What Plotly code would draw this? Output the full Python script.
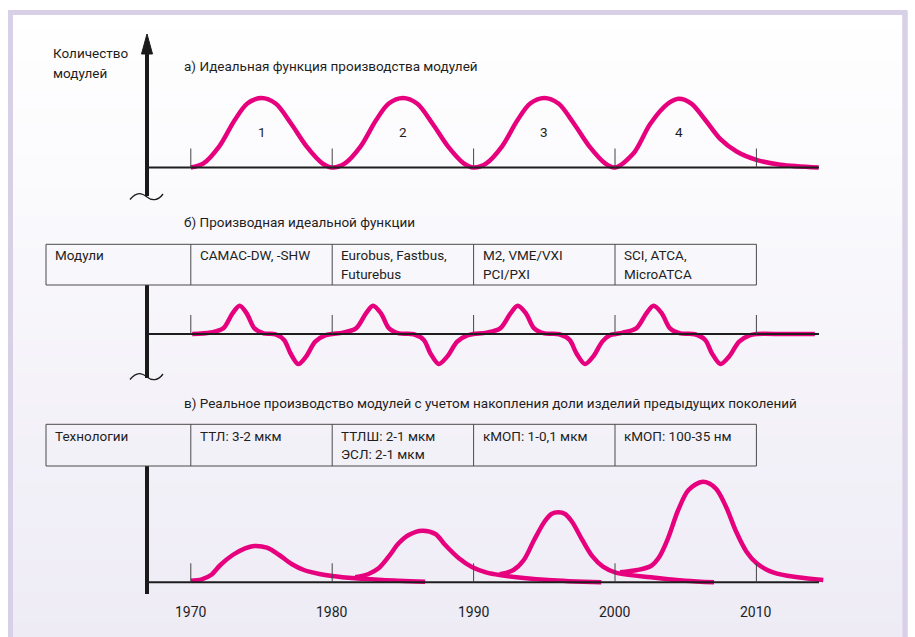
import plotly.graph_objects as go

W, H = 915, 637

# ---------------- data ----------------
decade_ticks = [1970, 1980, 1990, 2000, 2010]
decade_labels = ["1970", "1980", "1990", "2000", "2010"]

# a) ideal production function (relative units, peak = 1)
ideal_years = [1970.0, 1970.9, 1972.0, 1973.1, 1974.0, 1975.0, 1976.0, 1977.1, 1978.2, 1979.3,
               1980.0, 1980.9, 1982.0, 1983.1, 1984.0, 1985.0, 1986.0, 1987.1, 1988.2, 1989.3,
               1990.0, 1990.9, 1992.0, 1993.1, 1994.0, 1995.0, 1996.0, 1997.1, 1998.2, 1999.3,
               2000.0, 2001.3, 2002.5, 2003.75, 2004.5, 2005.4, 2006.4, 2007.4, 2008.6, 2010.0,
               2011.7, 2014.4]
ideal_values = [0.0, 0.06, 0.30, 0.68, 0.92, 1.0, 0.92, 0.63, 0.30, 0.06,
                0.0, 0.06, 0.30, 0.68, 0.92, 1.0, 0.92, 0.63, 0.30, 0.06,
                0.0, 0.06, 0.30, 0.68, 0.92, 1.0, 0.92, 0.63, 0.30, 0.06,
                0.0, 0.20, 0.63, 0.92, 0.99, 0.92, 0.68, 0.42, 0.23, 0.11,
                0.04, 0.0]
hump_names = ["1", "2", "3", "4"]
hump_centers = [1975.0, 1985.0, 1995.0, 2004.5]

# b) derivative of the ideal function
deriv_years = [1970.1, 1971.4, 1972.3, 1972.95, 1973.45, 1973.95, 1974.5, 1975.15, 1976.0, 1976.6,
               1977.05, 1977.6, 1978.15, 1978.8, 1979.5, 1980.0,
               1980.76, 1981.68, 1982.39, 1982.89, 1983.45, 1984.02, 1984.73, 1985.77, 1986.48,
               1986.94, 1987.54, 1988.13, 1988.84, 1989.55, 1990.0,
               1990.93, 1991.88, 1992.61, 1993.12, 1993.70, 1994.28, 1995.01, 1996.06, 1996.79,
               1997.27, 1997.88, 1998.45, 1999.1, 1999.6, 2000.05,
               2000.56, 2001.50, 2002.22, 2002.73, 2003.31, 2003.89, 2004.62, 2005.65, 2006.38,
               2006.85, 2007.46, 2008.06, 2008.78, 2009.51, 2010.0, 2012.0, 2014.13]
deriv_values = [0.0, 0.05, 0.2, 0.73, 1.0, 0.73, 0.2, 0.02, -0.01, -0.21,
                -0.68, -1.06, -0.8, -0.27, -0.05, 0.0,
                0.05, 0.2, 0.73, 1.0, 0.73, 0.2, 0.02, -0.01, -0.21,
                -0.68, -1.06, -0.8, -0.27, -0.05, 0.0,
                0.05, 0.2, 0.73, 1.0, 0.73, 0.2, 0.02, -0.01, -0.21,
                -0.68, -1.06, -0.8, -0.27, -0.05, 0.0,
                0.05, 0.2, 0.73, 1.0, 0.73, 0.2, 0.02, -0.01, -0.21,
                -0.68, -1.06, -0.8, -0.27, -0.05, 0.0, 0.0, 0.0]

# c) real production with accumulation of previous generations (relative units)
gen1_years = [1970.0, 1970.77, 1971.43, 1972.09, 1972.96, 1973.84, 1974.49, 1975.38, 1976.25,
              1977.13, 1978.0, 1979.1, 1980.0, 1981.63, 1983.52, 1986.57]
gen1_values = [0.016, 0.03, 0.073, 0.173, 0.273, 0.34, 0.363, 0.346, 0.273,
               0.183, 0.123, 0.083, 0.063, 0.04, 0.023, 0.006]
gen2_years = [1981.63, 1982.57, 1983.28, 1983.99, 1984.70, 1985.41, 1986.36, 1987.30, 1988.01,
              1988.96, 1989.91, 1990.88, 1991.85, 1995.26, 1999.03]
gen2_values = [0.05, 0.083, 0.14, 0.256, 0.39, 0.473, 0.516, 0.483, 0.37,
               0.24, 0.15, 0.10, 0.073, 0.023, 0.0]
gen3_years = [1991.85, 1992.82, 1993.55, 1994.28, 1995.01, 1995.5, 1995.99, 1996.47, 1996.96,
              1997.69, 1998.42, 1999.15, 2000.0, 2002.54, 2004.96, 2007.0]
gen3_values = [0.08, 0.123, 0.223, 0.423, 0.606, 0.683, 0.70, 0.683, 0.606,
               0.423, 0.256, 0.156, 0.10, 0.05, 0.016, 0.0]
gen4_years = [2000.36, 2001.57, 2002.54, 2003.14, 2003.75, 2004.47, 2005.2, 2006.21, 2007.12,
              2007.85, 2008.57, 2009.3, 2010.02, 2011.23, 2012.92, 2014.73]
gen4_values = [0.10, 0.123, 0.163, 0.256, 0.44, 0.723, 0.923, 1.006, 0.94,
               0.756, 0.506, 0.306, 0.19, 0.096, 0.05, 0.023]

# table texts
modules_header = "Модули"
modules_cells = [["CAMAC-DW, -SHW"], ["Eurobus, Fastbus,", "Futurebus"],
                 ["M2, VME/VXI", "PCI/PXI"], ["SCI, ATCA,", "MicroATCA"]]
tech_header = "Технологии"
tech_cells = [["ТТЛ: 3-2 мкм"], ["ТТЛШ: 2-1 мкм", "ЭСЛ: 2-1 мкм"],
              ["кМОП: 1-0,1 мкм"], ["кМОП: 100-35 нм"]]

y_title = ["Количество", "модулей"]
title_a = "а) Идеальная функция производства модулей"
title_b = "б) Производная идеальной функции"
title_c = "в) Реальное производство модулей с учетом накопления доли изделий предыдущих поколений"

# ---------------- layout helpers ----------------
MAG = "#e6007e"
INK = "#1e1e1e"
FONT = "Roboto"
FS = 13.5

X0, K = 473.6, 14.14          # pixel of 1990, pixels per year
x_range = [1990 - X0 / K, 1990 + (W - X0) / K]


def year_of_px(p):
    return 1990 + (p - X0) / K


def yx(p):
    return p / W


def yy(p):
    return 1 - p / H


def yaxis_cfg(top, bottom, base, ppu):
    return dict(domain=[yy(bottom), yy(top)],
                range=[(base - bottom) / ppu, (base - top) / ppu],
                visible=False, fixedrange=True, anchor="x")


fig = go.Figure()

line_style = dict(color=MAG, width=4.5, shape="spline", smoothing=0.9)
fig.add_trace(go.Scatter(x=ideal_years, y=ideal_values, mode="lines", line=line_style,
                         yaxis="y", hoverinfo="skip"))
fig.add_trace(go.Scatter(x=deriv_years, y=deriv_values, mode="lines", line=line_style,
                         yaxis="y2", hoverinfo="skip"))
for gx, gy in [(gen1_years, gen1_values), (gen2_years, gen2_values),
               (gen3_years, gen3_values), (gen4_years, gen4_values)]:
    fig.add_trace(go.Scatter(x=gx, y=gy, mode="lines", line=line_style,
                             yaxis="y3", hoverinfo="skip"))

shapes = []

# background gradient
n_bands = 40
top_px, bot_px = 15, H
c0, c1 = (255, 255, 255), (238, 235, 245)
for i in range(n_bands):
    t = i / (n_bands - 1)
    col = tuple(round(c0[k] + (c1[k] - c0[k]) * t) for k in range(3))
    ya = top_px + (bot_px - top_px) * i / n_bands
    yb = top_px + (bot_px - top_px) * (i + 1) / n_bands + 1
    shapes.append(dict(type="rect", xref="paper", yref="paper", x0=yx(13), x1=yx(902),
                       y0=yy(yb), y1=yy(ya), line=dict(width=0),
                       fillcolor="rgb(%d,%d,%d)" % col, layer="below"))

# frame border (lavender)
FR = "#d8d0e6"
shapes += [
    dict(type="line", xref="paper", yref="paper", x0=yx(10.5), x1=yx(10.5), y0=yy(12.5), y1=yy(H + 5),
         line=dict(color=FR, width=5), layer="below"),
    dict(type="line", xref="paper", yref="paper", x0=yx(8), x1=yx(907.5), y0=yy(12.5), y1=yy(12.5),
         line=dict(color=FR, width=5), layer="below"),
    dict(type="line", xref="paper", yref="paper", x0=yx(905), x1=yx(905), y0=yy(12.5), y1=yy(H + 5),
         line=dict(color=FR, width=5.5), layer="below"),
]


def tilde(cy):
    pts = [(130, cy + 2.5), (137, cy - 6), (142, cy - 4), (147, cy),
           (152, cy + 4), (158, cy + 4), (163, cy - 3)]
    flat = []
    for a, b in pts:
        flat += [yx(a), yy(b)]
    return "M %f,%f C %f,%f %f,%f %f,%f C %f,%f %f,%f %f,%f" % tuple(flat)


AXC = "#1a1a1a"
# vertical axes
for ya, yb in [(50, 196), (285, 378), (466, 594)]:
    shapes.append(dict(type="line", xref="paper", yref="paper", x0=yx(147), x1=yx(147),
                       y0=yy(ya), y1=yy(yb), line=dict(color=AXC, width=4)))
# arrow head
shapes.append(dict(type="path", xref="paper", yref="paper",
                   path="M %f,%f L %f,%f L %f,%f Z" % (yx(147), yy(34), yx(141.5), yy(54),
                                                       yx(152.5), yy(54)),
                   fillcolor=AXC, line=dict(color=AXC, width=1)))
for cy in (197, 377):
    shapes.append(dict(type="path", xref="paper", yref="paper", path=tilde(cy),
                       line=dict(color=AXC, width=1.3)))

# baselines and decade ticks
for yr in ("y", "y2", "y3"):
    shapes.append(dict(type="line", xref="paper", yref=yr, x0=yx(147), x1=yx(819), y0=0, y1=0,
                       line=dict(color=INK, width=2)))
    for d in decade_ticks:
        shapes.append(dict(type="line", xref="x", yref=yr, x0=d, x1=d, ysizemode="pixel",
                           yanchor=0, y0=0, y1=19, line=dict(color="#444444", width=1)))

# tables
TL = "#4a4a4a"
x_left = year_of_px(46)
for top, bot in [(244.3, 285), (424.3, 466)]:
    shapes.append(dict(type="rect", xref="x", yref="paper", x0=x_left, x1=decade_ticks[-1],
                       y0=yy(bot), y1=yy(top), line=dict(color=TL, width=1)))
    for d in decade_ticks[:-1]:
        shapes.append(dict(type="line", xref="x", yref="paper", x0=d, x1=d,
                           y0=yy(bot), y1=yy(top), line=dict(color=TL, width=1)))

ann = []


def text(x, y, s, xref="paper", yref="paper", xanchor="left", xshift=0, size=FS):
    ann.append(dict(x=x, y=y, xref=xref, yref=yref, text=s, showarrow=False,
                    xanchor=xanchor, yanchor="middle", xshift=xshift,
                    font=dict(family=FONT, size=size, color=INK)))


text(yx(51), yy(53), y_title[0])
text(yx(51), yy(72.5), y_title[1])
text(yx(182), yy(66), title_a)
text(yx(182), yy(222), title_b)
text(yx(182), yy(403), title_c)

for name, cx in zip(hump_names, hump_centers):
    text(cx, 0.51, name, xref="x", yref="y", xanchor="center")

text(yx(53), yy(255), modules_header)
for d, lines in zip(decade_ticks, modules_cells):
    for i, s in enumerate(lines):
        text(d, yy(255 + 18.5 * i), s, xref="x", xshift=7)

text(yx(53), yy(436), tech_header)
for d, lines in zip(decade_ticks, tech_cells):
    for i, s in enumerate(lines):
        text(d, yy(436 + 18.5 * i), s, xref="x", xshift=7)

for d, lab in zip(decade_ticks, decade_labels):
    text(d, yy(611.5), lab, xref="x", xanchor="center", size=14)

fig.update_layout(
    width=W, height=H,
    margin=dict(l=0, r=0, t=0, b=0),
    paper_bgcolor="white", plot_bgcolor="rgba(0,0,0,0)",
    showlegend=False,
    xaxis=dict(range=x_range, domain=[0, 1], visible=False, fixedrange=True, anchor="y"),
    yaxis=yaxis_cfg(25, 205, 167.5, 69.5),
    yaxis2=yaxis_cfg(290, 385, 334, 28.3),
    yaxis3=yaxis_cfg(470, 600, 582.3, 100.0),
    shapes=shapes,
    annotations=ann,
)

fig.write_html("out.html", config=dict(displayModeBar=False, staticPlot=True),
               post_script="document.body.style.margin='0';document.body.style.padding='0';"
                           "document.body.style.overflow='hidden';")
